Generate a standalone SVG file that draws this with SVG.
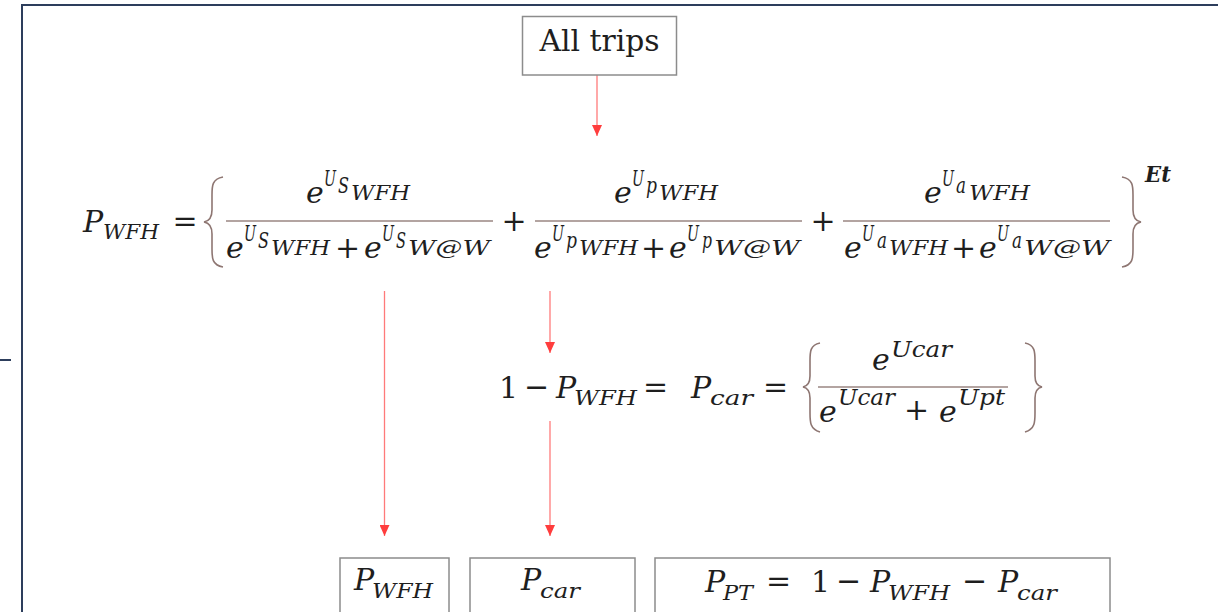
<svg xmlns="http://www.w3.org/2000/svg" width="1218" height="612" viewBox="0 0 1218 612">
<defs>
<style>
.m{font-family:"DejaVu Serif","Liberation Serif",serif;font-style:italic;fill:#1e1e1e;font-size:30px}
.u{font-family:"DejaVu Serif","Liberation Serif",serif;fill:#1e1e1e;font-size:30px}
.op{font-family:"DejaVu Serif","Liberation Serif",serif;fill:#1e1e1e;font-size:30px;text-anchor:middle}
.r{font-style:normal}
.s1{font-size:22px}
.s2{font-size:21px}
.box{fill:#fff;stroke:#8c8c8c;stroke-width:1.5}
.frac{stroke:#9a8682;stroke-width:1.6}
.brace{fill:none;stroke:#8e7672;stroke-width:1.6}
.conn{stroke:#ff7a7a;stroke-width:1.3;fill:none}
</style>
<marker id="ah" markerWidth="10" markerHeight="11" refX="5" refY="11" orient="0" markerUnits="userSpaceOnUse">
<path d="M0,0 L10,0 L5,11 Z" fill="#ff3d3d"/>
</marker>
</defs>
<rect width="1218" height="612" fill="#fff"/>
<g id="frame" stroke="#2d3e5c" stroke-width="2" fill="none">
<path d="M22,612 L22,5 L1218,5"/>
<path d="M0,360 L11,360"/>
</g>

<g id="connectors">
<path class="conn" d="M597,75 L597,136" marker-end="url(#ah)"/>
<path class="conn" d="M384.5,291 L384.5,536" marker-end="url(#ah)"/>
<path class="conn" d="M550,291 L550,353" marker-end="url(#ah)"/>
<path class="conn" d="M550,421 L550,536" marker-end="url(#ah)"/>
</g>

<g id="all-trips">
<rect class="box" x="522.5" y="16.5" width="154" height="58.5"/>
<text class="u" x="599.5" y="51" text-anchor="middle" font-size="29" textLength="120" lengthAdjust="spacingAndGlyphs">All trips</text>
</g>

<g id="p-wfh-equation">
<text class="m"><tspan x="83" y="232">P</tspan><tspan class="s2" x="103" y="239" textLength="56" lengthAdjust="spacingAndGlyphs">WFH</tspan></text>
<text class="op" x="185" y="231">=</text>
<path class="brace" d="M223,177 C212,179 212,186 212,195 L212,210 C212,217 210,221 204,222 C210,223 212,227 212,234 L212,249 C212,258 212,265 223,267"/>
<!-- fraction 1 -->
<line class="frac" x1="226" y1="221" x2="493" y2="221"/>
<text class="m"><tspan x="306" y="203">e</tspan><tspan class="s1" x="324" y="186" textLength="12" lengthAdjust="spacingAndGlyphs">U</tspan><tspan class="s1" x="338" y="193" textLength="11" lengthAdjust="spacingAndGlyphs">S</tspan><tspan class="s2" x="351" y="200" textLength="59" lengthAdjust="spacingAndGlyphs">WFH</tspan></text>
<text class="m"><tspan x="226" y="258">e</tspan><tspan class="s1" x="244" y="241" textLength="12" lengthAdjust="spacingAndGlyphs">U</tspan><tspan class="s1" x="258" y="248" textLength="11" lengthAdjust="spacingAndGlyphs">S</tspan><tspan class="s2" x="271" y="255" textLength="59" lengthAdjust="spacingAndGlyphs">WFH</tspan><tspan class="r" x="335" y="258">+</tspan><tspan x="364" y="258">e</tspan><tspan class="s1" x="382" y="241" textLength="12" lengthAdjust="spacingAndGlyphs">U</tspan><tspan class="s1" x="396" y="248" textLength="10" lengthAdjust="spacingAndGlyphs">S</tspan><tspan class="s2" x="408" y="255" textLength="82" lengthAdjust="spacingAndGlyphs">W@W</tspan></text>
<text class="op" x="514" y="231">+</text>
<!-- fraction 2 -->
<line class="frac" x1="535" y1="221" x2="802" y2="221"/>
<text class="m"><tspan x="614" y="203">e</tspan><tspan class="s1" x="632" y="186" textLength="12" lengthAdjust="spacingAndGlyphs">U</tspan><tspan class="s1" x="646" y="193" textLength="11" lengthAdjust="spacingAndGlyphs">p</tspan><tspan class="s2" x="659" y="200" textLength="59" lengthAdjust="spacingAndGlyphs">WFH</tspan></text>
<text class="m"><tspan x="534" y="258">e</tspan><tspan class="s1" x="552" y="241" textLength="12" lengthAdjust="spacingAndGlyphs">U</tspan><tspan class="s1" x="566" y="248" textLength="11" lengthAdjust="spacingAndGlyphs">p</tspan><tspan class="s2" x="579" y="255" textLength="59" lengthAdjust="spacingAndGlyphs">WFH</tspan><tspan class="r" x="641" y="258">+</tspan><tspan x="669" y="258">e</tspan><tspan class="s1" x="687" y="241" textLength="12" lengthAdjust="spacingAndGlyphs">U</tspan><tspan class="s1" x="702" y="248" textLength="10" lengthAdjust="spacingAndGlyphs">p</tspan><tspan class="s2" x="714" y="255" textLength="86" lengthAdjust="spacingAndGlyphs">W@W</tspan></text>
<text class="op" x="823" y="231">+</text>
<!-- fraction 3 -->
<line class="frac" x1="843" y1="221" x2="1110" y2="221"/>
<text class="m"><tspan x="924" y="203">e</tspan><tspan class="s1" x="942" y="186" textLength="12" lengthAdjust="spacingAndGlyphs">U</tspan><tspan class="s1" x="956" y="193" textLength="10" lengthAdjust="spacingAndGlyphs">a</tspan><tspan class="s2" x="969" y="200" textLength="61" lengthAdjust="spacingAndGlyphs">WFH</tspan></text>
<text class="m"><tspan x="844" y="258">e</tspan><tspan class="s1" x="862" y="241" textLength="12" lengthAdjust="spacingAndGlyphs">U</tspan><tspan class="s1" x="877" y="248" textLength="10" lengthAdjust="spacingAndGlyphs">a</tspan><tspan class="s2" x="889" y="255" textLength="59" lengthAdjust="spacingAndGlyphs">WFH</tspan><tspan class="r" x="951" y="258">+</tspan><tspan x="979" y="258">e</tspan><tspan class="s1" x="997" y="241" textLength="12" lengthAdjust="spacingAndGlyphs">U</tspan><tspan class="s1" x="1012" y="248" textLength="10" lengthAdjust="spacingAndGlyphs">a</tspan><tspan class="s2" x="1024" y="255" textLength="86" lengthAdjust="spacingAndGlyphs">W@W</tspan></text>
<path class="brace" d="M1122,177 C1133,179 1133,186 1133,195 L1133,210 C1133,217 1135,221 1141,222 C1135,223 1133,227 1133,234 L1133,249 C1133,258 1133,265 1122,267"/>
<text class="m s1" x="1145" y="182" font-weight="bold" textLength="26" lengthAdjust="spacingAndGlyphs">Et</text>
</g>

<g id="p-car-equation">
<text class="m"><tspan class="r" x="499" y="398">1</tspan><tspan class="r" x="524" y="397">−</tspan><tspan x="556" y="398">P</tspan><tspan class="s2" x="574" y="405" textLength="63" lengthAdjust="spacingAndGlyphs">WFH</tspan><tspan class="r" x="643" y="397">=</tspan><tspan x="691" y="398">P</tspan><tspan class="s2" x="710" y="405" textLength="43" lengthAdjust="spacingAndGlyphs">car</tspan><tspan class="r" x="763" y="397">=</tspan></text>
<path class="brace" d="M820,343 C810,345 810,352 810,361 L810,376 C810,383 808,386 803,387 C808,388 810,391 810,398 L810,413 C810,422 810,429 820,432"/>
<line class="frac" x1="818" y1="387" x2="1008" y2="387"/>
<text class="m"><tspan x="872" y="370">e</tspan><tspan class="s1" x="891" y="357" textLength="61" lengthAdjust="spacingAndGlyphs">Ucar</tspan></text>
<text class="m"><tspan x="819" y="422">e</tspan><tspan class="s1" x="838" y="405" textLength="57" lengthAdjust="spacingAndGlyphs">Ucar</tspan><tspan class="r" x="904" y="420">+</tspan><tspan x="939" y="422">e</tspan><tspan class="s1" x="958" y="405" textLength="47" lengthAdjust="spacingAndGlyphs">Upt</tspan></text>
<path class="brace" d="M1025,343 C1035,345 1035,352 1035,361 L1035,376 C1035,383 1037,386 1042,387 C1037,388 1035,391 1035,398 L1035,413 C1035,422 1035,429 1025,432"/>
</g>

<g id="p-wfh-box">
<rect class="box" x="340" y="558" width="109" height="70"/>
<text class="m"><tspan x="354" y="590">P</tspan><tspan class="s2" x="372" y="598" textLength="61" lengthAdjust="spacingAndGlyphs">WFH</tspan></text>
</g>

<g id="p-car-box">
<rect class="box" x="470" y="558" width="165" height="70"/>
<text class="m"><tspan x="521" y="590">P</tspan><tspan class="s2" x="540" y="598" textLength="40" lengthAdjust="spacingAndGlyphs">car</tspan></text>
</g>

<g id="p-pt-box">
<rect class="box" x="655" y="558" width="455" height="70"/>
<text class="m"><tspan x="705" y="592">P</tspan><tspan class="s2" x="723" y="600" textLength="30" lengthAdjust="spacingAndGlyphs">PT</tspan><tspan class="r" x="766" y="591">=</tspan><tspan class="r" x="811" y="592">1</tspan><tspan class="r" x="836" y="591">−</tspan><tspan x="870" y="592">P</tspan><tspan class="s2" x="888" y="600" textLength="62" lengthAdjust="spacingAndGlyphs">WFH</tspan><tspan class="r" x="962" y="591">−</tspan><tspan x="998" y="592">P</tspan><tspan class="s2" x="1017" y="600" textLength="40" lengthAdjust="spacingAndGlyphs">car</tspan></text>
</g>
</svg>
